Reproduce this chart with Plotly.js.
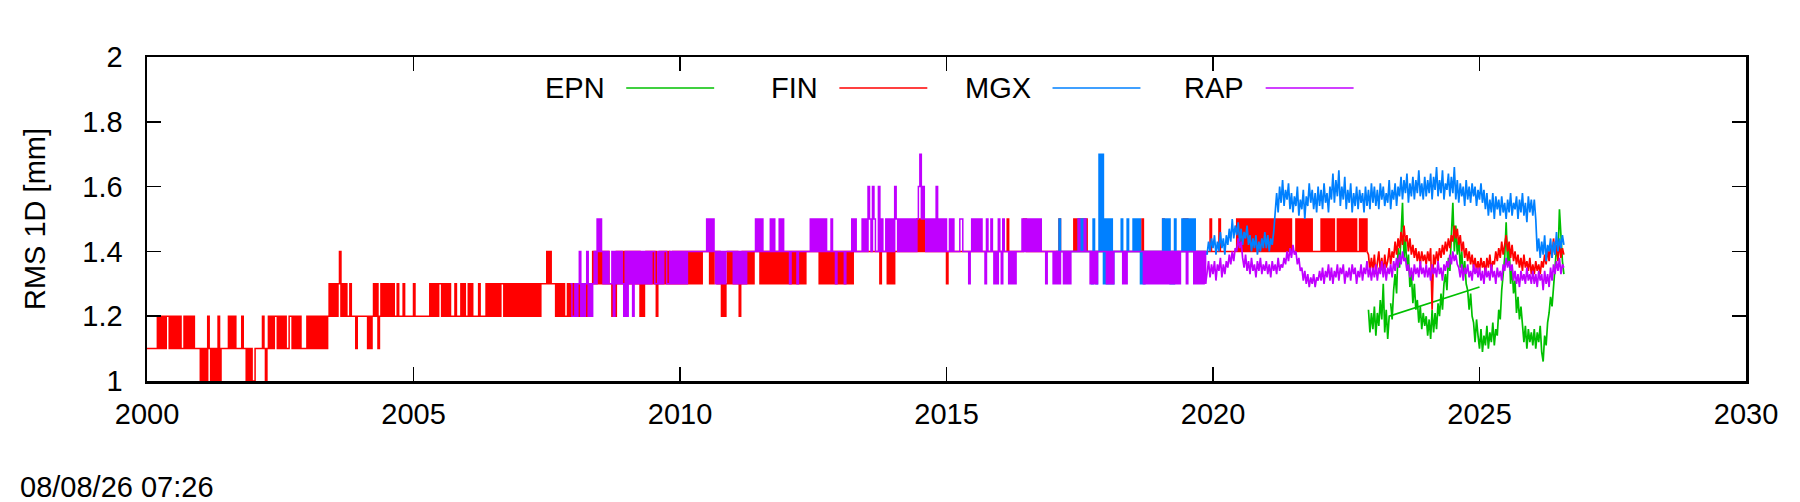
<!DOCTYPE html>
<html>
<head>
<meta charset="utf-8">
<script src="https://cdn.plot.ly/plotly-3.0.1.min.js"></script>
<style>html,body{margin:0;padding:0;background:#fff;}</style>
</head>
<body>
<div id="chart" style="width:1800px;height:502px;"></div>
<script>
// ---------------- data ----------------
const seriesNames = ["EPN", "FIN", "MGX", "RAP"];
const samplesPerYear = 36;            // one sample every ~10 days
const xTickVals = [2000, 2005, 2010, 2015, 2020, 2025, 2030];
const yTickVals = [1, 1.2, 1.4, 1.6, 1.8, 2];
const timeStamp = "08/08/26 07:26";
const yTitle = "RMS 1D [mm]";

// Quantised periods: one digit per sample = tenths of mm above 1 mm ("3" -> 1.3 mm), "-" = no data.
// Each string is one calendar year; the first string starts at [year, sample index].
const finTenthsStart = [2000, 0];
const finTenths = [
  "111111121212122121212121121212121111", // 2000
  "010102101010201111121212111121101010", // 2001
  "011111210121212212121211221212121111", // 2002
  "212121212121212323232342323223222122", // 2003
  "222221212323123232323232232223222222", // 2004
  "322222222223232323323232322232223232", // 2005
  "232322223222232323232323323232323232", // 2006
  "323232323232323333434333232323223232", // 2007
  "323232333232343434343434332324343434", // 2008
  "434343434232343434342343434343343434", // 2009
  "343434343434343444443434434323234343", // 2010
  "434323434343434444343434343434343434", // 2011
  "343434343434344444444434343434343434", // 2012
  "343434343444444444444444444344443434", // 2013
  "344444444444444454545444444444444444", // 2014
  "344444444444444444444444444444444444", // 2015
  "444445444444444455444444444444444444", // 2016
  "444454444444445454545454444444444444", // 2017
  "444444444444444444444444544444444444", // 2018
  "445444444444444454544444444444444454", // 2019
  "444454444444444454545454545454545454", // 2020
  "545454545454545454445454545454544444", // 2021
  "454545454544545454545454544545454"     // 2022
];
const rapTenthsStart = [2007, 34];
const rapTenths = [
  "32",                                   // 2007
  "232342323423234354543434334243434324", // 2008
  "243424343434343434433434344334343434", // 2009
  "343434444444444444545454343434344444", // 2010
  "343434343444444545454444454544454544", // 2011
  "443444434444444454545454545444544344", // 2012
  "444344445454444545465465446454454545", // 2013
  "465454545454545456756545454546454545", // 2014
  "445454444554444345454545443544543435", // 2015
  "435444343434444545454545454544434444", // 2016
  "343434434343444445444544434343444444", // 2017
  "343434444443434444444444434343434343", // 2018
  "43434343434343444434444343434343"      // 2019
];
const mgxTenthsStart = [2017, 2];
const mgxTenths = [
  "4454444444444445454544443543474735",   // 2017
  "353534444454445444545453434444444444", // 2018
  "44545453435444454545454544444444"      // 2019
];

// Continuous periods (mm), one value per sample, continuing right after the quantised part.
const finContinuous = [
  1.39, 1.34, 1.38,
  1.34, 1.39, 1.33, 1.37, 1.40, 1.34, 1.38, 1.33, 1.39, 1.35, 1.37, 1.41, 1.36, 1.40, 1.38, 1.43, 1.39, 1.44,
  1.41, 1.46, 1.42, 1.48, 1.43, 1.45, 1.40, 1.44, 1.39, 1.42, 1.38, 1.41, 1.37, 1.40, 1.36, 1.40, 1.37, 1.39,
  1.36, 1.40, 1.37, 1.41, 1.22, 1.39, 1.36, 1.40, 1.37, 1.41, 1.38, 1.42, 1.39, 1.43, 1.40, 1.44, 1.41, 1.45,
  1.43, 1.48, 1.44, 1.47, 1.42, 1.45, 1.40, 1.43, 1.38, 1.41, 1.37, 1.40, 1.36, 1.39, 1.35, 1.38, 1.34, 1.37,
  1.34, 1.38, 1.35, 1.37, 1.33, 1.38, 1.35, 1.39, 1.34, 1.37, 1.36, 1.40, 1.37, 1.41, 1.38, 1.43, 1.39, 1.42,
  1.45, 1.40, 1.43, 1.38, 1.42, 1.37, 1.40, 1.36, 1.39, 1.35, 1.38, 1.34, 1.39, 1.35, 1.37, 1.34, 1.38, 1.33,
  1.36, 1.33, 1.37, 1.34, 1.36, 1.33, 1.37, 1.35, 1.39, 1.36, 1.41, 1.37, 1.42, 1.38, 1.44, 1.39, 1.42, 1.37,
  1.43, 1.38, 1.41, 1.39
];
const epnStart = [2022, 33];
const epnContinuous = [
  1.22, 1.15, 1.21,
  1.16, 1.23, 1.14, 1.21, 1.17, 1.25, 1.19, 1.30, 1.15, 1.22, 1.13, 1.20, 1.24, 1.19, 1.28, 1.33, 1.27, 1.41,
  1.35, 1.46, 1.55, 1.38, 1.44, 1.34, 1.39, 1.29, 1.33, 1.24, 1.30, 1.22, 1.25, 1.18, 1.23, 1.16, 1.21, 1.17,
  1.20, 1.14, 1.19, 1.13, 1.22, 1.15, 1.21, 1.16, 1.24, 1.20, 1.27, 1.22, 1.30, 1.33, 1.28, 1.38, 1.34, 1.45,
  1.55, 1.40, 1.48, 1.39, 1.44, 1.35, 1.40, 1.32, 1.37, 1.30, 1.28, 1.22, 1.27, 1.20, 1.18, 1.12, 1.19, 1.14,
  1.10, 1.16, 1.09, 1.14, 1.11, 1.17, 1.10, 1.15, 1.12, 1.18, 1.11, 1.16, 1.14, 1.22, 1.19, 1.28, 1.33, 1.38,
  1.49, 1.36, 1.42, 1.30, 1.35, 1.27, 1.31, 1.21, 1.26, 1.19, 1.23, 1.16, 1.12, 1.17, 1.10, 1.16, 1.12, 1.15,
  1.11, 1.16, 1.10, 1.15, 1.12, 1.17, 1.09, 1.06, 1.14, 1.11, 1.18, 1.21, 1.26, 1.23, 1.31, 1.35, 1.41, 1.38,
  1.53, 1.44, 1.37, 1.33
];
// one EPN record out of time order in the file (drawn as a straight join in the reference)
const epnOutOfOrderAfter = 14;
const epnOutOfOrder = [2025.0, 1.29];

const mgxContinuous = [
  1.39, 1.43, 1.40, 1.44,
  1.41, 1.45, 1.39, 1.43, 1.40, 1.46, 1.41, 1.44, 1.39, 1.45, 1.42, 1.47, 1.43, 1.50, 1.44, 1.48, 1.45, 1.49,
  1.43, 1.47, 1.42, 1.46, 1.44, 1.48, 1.42, 1.45, 1.40, 1.44, 1.41, 1.45, 1.39, 1.43, 1.40, 1.44, 1.41, 1.46,
  1.41, 1.45, 1.40, 1.44, 1.42, 1.46, 1.53, 1.58, 1.52, 1.60, 1.55, 1.62, 1.54, 1.59, 1.56, 1.61, 1.53, 1.58,
  1.52, 1.57, 1.54, 1.60, 1.51, 1.56, 1.53, 1.59, 1.50, 1.57, 1.54, 1.61, 1.55, 1.59, 1.53, 1.58, 1.52, 1.60,
  1.54, 1.59, 1.53, 1.61, 1.55, 1.58, 1.52, 1.60, 1.56, 1.64, 1.55, 1.62, 1.57, 1.65, 1.54, 1.60, 1.56, 1.63,
  1.53, 1.59, 1.55, 1.61, 1.52, 1.58, 1.54, 1.60, 1.53, 1.59, 1.55, 1.58, 1.52, 1.60, 1.54, 1.59, 1.53, 1.61,
  1.55, 1.60, 1.54, 1.59, 1.53, 1.61, 1.56, 1.60, 1.54, 1.58, 1.55, 1.62, 1.53, 1.59, 1.56, 1.61, 1.54, 1.60,
  1.57, 1.63, 1.56, 1.62, 1.58, 1.64, 1.55, 1.61, 1.57, 1.63, 1.56, 1.62, 1.58, 1.65, 1.57, 1.61, 1.56, 1.63,
  1.57, 1.62, 1.58, 1.64, 1.56, 1.63, 1.59, 1.66, 1.57, 1.62, 1.58, 1.65, 1.56, 1.61, 1.59, 1.64, 1.57, 1.63,
  1.58, 1.66, 1.56, 1.62, 1.55, 1.61, 1.57, 1.60, 1.54, 1.62, 1.56, 1.60, 1.55, 1.61, 1.57, 1.60, 1.54, 1.59,
  1.56, 1.61, 1.55, 1.59, 1.53, 1.58, 1.51, 1.56, 1.52, 1.58, 1.50, 1.57, 1.53, 1.56, 1.51, 1.57, 1.52, 1.55,
  1.50, 1.56, 1.52, 1.58, 1.51, 1.55, 1.53, 1.57, 1.50, 1.56, 1.52, 1.58, 1.51, 1.55, 1.49, 1.57, 1.52, 1.56,
  1.51, 1.56, 1.50, 1.40, 1.44, 1.38, 1.43, 1.39, 1.45, 1.37, 1.42, 1.40, 1.44, 1.38, 1.43, 1.39, 1.46, 1.40,
  1.44, 1.41, 1.45, 1.42
];
const rapContinuous = [
  1.33, 1.37, 1.32, 1.36,
  1.33, 1.37, 1.31, 1.36, 1.34, 1.38, 1.32, 1.36, 1.33, 1.37, 1.35, 1.39, 1.36, 1.40, 1.37, 1.41, 1.40, 1.44,
  1.41, 1.43, 1.38, 1.35, 1.39, 1.34, 1.37, 1.33, 1.38, 1.34, 1.36, 1.32, 1.37, 1.34, 1.38, 1.33, 1.36, 1.34,
  1.37, 1.33, 1.36, 1.32, 1.37, 1.34, 1.36, 1.33, 1.38, 1.34, 1.36, 1.35, 1.38, 1.36, 1.40, 1.37, 1.41, 1.38,
  1.42, 1.39, 1.40, 1.36, 1.38, 1.34, 1.35, 1.31, 1.34, 1.30, 1.33, 1.29, 1.32, 1.30, 1.33, 1.29, 1.32, 1.31,
  1.34, 1.31, 1.35, 1.30, 1.34, 1.32, 1.36, 1.31, 1.35, 1.30, 1.34, 1.32, 1.36, 1.31, 1.35, 1.33, 1.36, 1.30,
  1.34, 1.32, 1.35, 1.31, 1.36, 1.33, 1.35, 1.30, 1.34, 1.32, 1.36, 1.31, 1.35, 1.33, 1.37, 1.32, 1.35, 1.31,
  1.35, 1.32, 1.36, 1.31, 1.35, 1.33, 1.37, 1.32, 1.36, 1.31, 1.35, 1.33, 1.36, 1.32, 1.37, 1.34, 1.38, 1.35,
  1.39, 1.36, 1.40, 1.37, 1.38, 1.34, 1.36, 1.32, 1.35, 1.31, 1.36, 1.33, 1.35, 1.32, 1.37, 1.33, 1.35, 1.32,
  1.36, 1.32, 1.35, 1.31, 1.36, 1.33, 1.35, 1.32, 1.37, 1.33, 1.35, 1.31, 1.36, 1.34, 1.37, 1.35, 1.39, 1.36,
  1.40, 1.37, 1.39, 1.36, 1.35, 1.32, 1.36, 1.31, 1.35, 1.33, 1.36, 1.32, 1.34, 1.31, 1.36, 1.33, 1.35, 1.32,
  1.35, 1.31, 1.34, 1.30, 1.35, 1.32, 1.34, 1.31, 1.36, 1.32, 1.34, 1.30, 1.35, 1.32, 1.34, 1.31, 1.36, 1.34,
  1.38, 1.35, 1.37, 1.34, 1.36, 1.31, 1.34, 1.30, 1.33, 1.29, 1.34, 1.31, 1.33, 1.30, 1.35, 1.31, 1.33, 1.30,
  1.34, 1.30, 1.33, 1.29, 1.34, 1.31, 1.33, 1.28, 1.34, 1.30, 1.33, 1.29, 1.35, 1.31, 1.36, 1.33, 1.37, 1.34,
  1.38, 1.33, 1.36, 1.35
];

// ---------------- build traces ----------------
function sampleYear(year, idx) { return year + idx / samplesPerYear; }

// returns the quantised part (drawn as steps) and the continuous part (drawn as lines)
function buildSeries(qStart, qStrings, contStart, contValues) {
  const q = { x: [], y: [] }, c = { x: [], y: [] };
  let lastYear = contStart ? contStart[0] : 0, nextIdx = contStart ? contStart[1] : 0;
  if (qStrings) {
    qStrings.forEach((s, k) => {
      const year = qStart[0] + k;
      const off = k === 0 ? qStart[1] : 0;
      for (let j = 0; j < s.length; j++) {
        const ch = s[j];
        if (ch !== "-") { q.x.push(sampleYear(year, off + j)); q.y.push(1 + Number(ch) / 10); }
      }
      lastYear = year; nextIdx = off + s.length;
    });
    // continuous part joins on from the last quantised sample
    c.x.push(q.x[q.x.length - 1]); c.y.push(q.y[q.y.length - 1]);
  }
  contValues.forEach((v, k) => {
    c.x.push(sampleYear(lastYear, nextIdx + k));
    c.y.push(v);
  });
  return { q, c };
}

const epnRaw = buildSeries(null, null, epnStart, epnContinuous).c;
const epnC = { x: [], y: [] };
epnRaw.x.forEach((xv, i) => {
  epnC.x.push(xv); epnC.y.push(epnRaw.y[i]);
  if (i === epnOutOfOrderAfter) {
    epnC.x.push(epnOutOfOrder[0], null); epnC.y.push(epnOutOfOrder[1], null);
  }
});
const fin = buildSeries(finTenthsStart, finTenths, null, finContinuous);
const mgx = buildSeries(mgxTenthsStart, mgxTenths, null, mgxContinuous);
const rap = buildSeries(rapTenthsStart, rapTenths, null, rapContinuous);

const colors = { EPN: "#00c000", FIN: "#ff0000", MGX: "#0080ff", RAP: "#c000ff" };
const parts = {
  EPN: { q: null, c: epnC },
  FIN: fin, MGX: mgx, RAP: rap
};
const FONT = "Liberation Sans, Arial, Helvetica, sans-serif";

const traces = [];
seriesNames.forEach(n => {
  const p = parts[n];
  if (p.q) traces.push({
    type: "scatter", mode: "lines", name: n, legendgroup: n, x: p.q.x, y: p.q.y,
    line: { color: colors[n], width: 1.5, shape: "hv" }, showlegend: false, hoverinfo: "skip"
  });
  traces.push({
    type: "scatter", mode: "lines", name: n, legendgroup: n, x: p.c.x, y: p.c.y,
    line: { color: colors[n], width: 1.7 }, connectgaps: false, showlegend: false, hoverinfo: "skip"
  });
});

// gnuplot-style key: label (right aligned) followed by a line sample, across the top
const keyFirstTextRight = 0.2877, keyStep = 0.1333, keyGap = 0.012, keyLen = 0.055, keyY = 0.904;
const annotations = seriesNames.map((n, i) => ({
  xref: "paper", yref: "paper", x: keyFirstTextRight + i * keyStep, y: keyY,
  xanchor: "right", yanchor: "middle", showarrow: false, text: n,
  font: { family: FONT, size: 29, color: "#000" }
}));
const shapes = seriesNames.map((n, i) => ({
  type: "line", xref: "paper", yref: "paper",
  x0: keyFirstTextRight + i * keyStep + keyGap, x1: keyFirstTextRight + i * keyStep + keyGap + keyLen,
  y0: keyY, y1: keyY, line: { color: colors[n], width: 1.5 }
}));
annotations.push({
  xref: "paper", yref: "paper", x: -0.0807, y: -0.327, xanchor: "left", yanchor: "middle",
  showarrow: false, text: timeStamp, font: { family: FONT, size: 29, color: "#000" }
});

const axisCommon = {
  showgrid: false, zeroline: false, showline: true, linecolor: "#000", linewidth: 2.5,
  mirror: "ticks", ticks: "inside", ticklen: 14, tickwidth: 1.5, tickcolor: "#000",
  tickfont: { family: FONT, size: 29, color: "#000" }
};

const layout = {
  width: 1800, height: 502,
  margin: { l: 147, r: 54, t: 57, b: 121, pad: 0 },
  paper_bgcolor: "#fff", plot_bgcolor: "#fff",
  font: { family: FONT, size: 29, color: "#000" },
  xaxis: Object.assign({}, axisCommon, {
    range: [2000, 2030], tickmode: "array", tickvals: xTickVals, ticktext: xTickVals.map(String),
    ticklabelstandoff: 6
  }),
  yaxis: Object.assign({}, axisCommon, {
    range: [1, 2], tickmode: "array", tickvals: yTickVals, ticktext: yTickVals.map(String),
    ticklabelstandoff: 16,
    title: { text: yTitle, font: { family: FONT, size: 29, color: "#000" }, standoff: 28 }
  }),
  annotations, shapes, showlegend: false, hovermode: false
};

Plotly.newPlot("chart", traces, layout, { staticPlot: true, displayModeBar: false });
</script>
</body>
</html>
